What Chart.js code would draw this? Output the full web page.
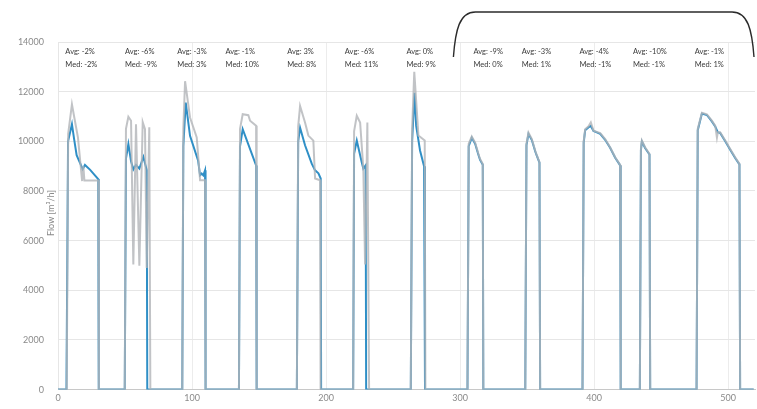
<!DOCTYPE html>
<html>
<head>
<meta charset="utf-8">
<script src="https://cdn.jsdelivr.net/npm/chart.js@4/dist/chart.umd.min.js"></script>
<style>
  html, body { margin: 0; padding: 0; background: #ffffff; }
  #flow { display: block; }
</style>
</head>
<body>
<canvas id="flow" width="757" height="409"></canvas>
<script>
// Measured flow (grey) – time [h] and flow [m³/h]
const grayX = [0,
  6.5, 7.6, 10.4, 12.2, 14.9, 18.0, 18.9, 19.7, 30.1, 30.5,
  49.8, 50.7, 52.5, 54.5, 56.2, 58.2, 60.7, 63.2, 64.9, 66.2, 68.1, 68.9,
  92.7, 93.5, 94.8, 98.5, 103.5, 106.0, 109.7, 110.1,
  135.0, 135.8, 137.8, 142.0, 143.3, 147.8, 148.2,
  178.2, 179.2, 180.6, 184.3, 186.8, 190.5, 191.8, 195.5, 195.9,
  220.2, 220.9, 222.9, 225.4, 227.8, 229.1, 230.8, 232.1,
  263.2, 264.2, 265.8, 268.9, 273.6, 274.1,
  305.5, 306.4, 308.7, 311.2, 313.7, 314.9, 316.9, 317.3,
  348.6, 349.5, 351.0, 353.5, 356.0, 357.2, 359.2, 359.7,
  391.3, 392.2, 393.3, 395.7, 397.5, 399.5, 402.0, 404.5, 408.2, 411.9, 415.7, 418.1, 419.4, 419.8,
  434.1, 434.9, 435.6, 438.0, 441.3, 441.8,
  476.4, 477.3, 480.4, 484.1, 487.8, 490.3, 491.6, 492.3, 494.0, 497.8, 501.5, 505.2, 508.4, 508.9,
  519];
const grayY = [0,
  0, 10300, 11490, 10950, 10150, 8400, 9000, 8420, 8420, 0,
  0, 10500, 10990, 10830, 5040, 10690, 4990, 10770, 10490, 4900, 10570, 0,
  0, 10500, 12420, 10960, 10160, 8430, 8430, 0,
  0, 10500, 11090, 11050, 10830, 10630, 0,
  0, 10600, 11420, 10760, 10230, 10030, 8500, 8430, 0,
  0, 10400, 11030, 10760, 8900, 5040, 10760, 0,
  0, 10500, 12800, 10230, 10030, 0,
  0, 9900, 10190, 9950, 9490, 9290, 9090, 0,
  0, 9900, 10350, 10090, 9630, 9440, 9160, 0,
  0, 10000, 10490, 10600, 10760, 10430, 10380, 10330, 10090, 9760, 9360, 9160, 9050, 0,
  0, 9700, 10030, 9760, 9490, 0,
  0, 10500, 11150, 11090, 10830, 10630, 10150, 10370, 10370, 10030, 9690, 9360, 9090, 0,
  0];

// Simulated flow (blue)
const blueX = [0,
  6.3, 7.5, 10.4, 12.0, 13.9, 17.7, 18.4, 20.1, 24.0, 30.0, 30.4,
  49.8, 50.7, 52.5, 54.5, 56.2, 58.2, 60.7, 63.7, 66.2, 66.6,
  92.7, 93.5, 95.3, 98.5, 104.5, 106.0, 107.2, 108.4, 109.7, 110.1,
  135.0, 135.8, 137.8, 147.8, 148.2,
  178.2, 179.2, 180.6, 184.3, 189.3, 191.8, 194.3, 196.0, 196.3,
  220.2, 220.9, 222.9, 226.6, 227.8, 229.5, 229.9,
  263.2, 264.2, 266.0, 267.2, 270.1, 273.1, 273.8,
  305.5, 306.4, 308.7, 311.2, 313.7, 314.9, 316.9, 317.3,
  348.6, 349.5, 351.0, 353.5, 356.0, 357.2, 359.2, 359.7,
  391.3, 392.2, 393.3, 395.7, 397.5, 399.5, 402.0, 404.5, 408.2, 411.9, 415.7, 418.1, 419.4, 419.8,
  434.1, 434.9, 435.6, 438.0, 441.3, 441.8,
  476.4, 477.3, 480.4, 484.1, 487.8, 490.3, 492.3, 494.0, 497.8, 501.5, 505.2, 508.4, 508.9,
  519];
const blueY = [0,
  0, 10000, 10690, 10100, 9440, 8970, 8880, 9050, 8850, 8480, 0,
  0, 9300, 9890, 9200, 8870, 9050, 8900, 9370, 8840, 0,
  0, 9800, 11560, 10220, 9230, 8630, 8700, 8630, 8830, 0,
  0, 9800, 10490, 9030, 0,
  0, 10000, 10550, 9840, 9100, 8830, 8710, 8500, 0,
  0, 9500, 10030, 9160, 8900, 9030, 0,
  0, 10000, 11950, 10630, 9630, 9000, 0,
  0, 9800, 10150, 9900, 9450, 9250, 9060, 0,
  0, 9850, 10300, 10050, 9600, 9420, 9140, 0,
  0, 9950, 10450, 10560, 10620, 10420, 10360, 10300, 10060, 9740, 9340, 9140, 9030, 0,
  0, 9650, 9990, 9730, 9470, 0,
  0, 10450, 11120, 11060, 10800, 10600, 10360, 10340, 10000, 9660, 9330, 9070, 0,
  0];

// Deviation notes, one per run
const noteAt = [5.5, 50, 89, 125, 171, 214, 260, 310, 346, 389, 429, 475];
const avgText = ['Avg: -2%', 'Avg: -6%', 'Avg: -3%', 'Avg: -1%', 'Avg: 3%', 'Avg: -6%',
                 'Avg: 0%', 'Avg: -9%', 'Avg: -3%', 'Avg: -4%', 'Avg: -10%', 'Avg: -1%'];
const medText = ['Med: -2%', 'Med: -9%', 'Med: 3%', 'Med: 10%', 'Med: 8%', 'Med: 11%',
                 'Med: 9%', 'Med: 0%', 'Med: 1%', 'Med: -1%', 'Med: -1%', 'Med: 1%'];

// Range spanned by the bracket over the later runs
const bracketFrom = 295;

const yTitle = 'Flow [m³/h]';
const xTickStep = 100;

const toPoints = (xs, ys) => xs.map((x, i) => ({ x: x, y: ys[i] }));
const FONT = 'Lato, "Open Sans", sans-serif';

const notesPlugin = {
  id: 'notes',
  afterDatasetsDraw(chart) {
    const { ctx, chartArea, scales } = chart;
    ctx.save();
    ctx.font = '7.5px ' + FONT;
    ctx.fillStyle = '#3a3a3a';
    ctx.textAlign = 'left';
    ctx.textBaseline = 'middle';
    noteAt.forEach((v, i) => {
      const px = scales.x.getPixelForValue(v);
      ctx.fillText(avgText[i], px, chartArea.top + 9.5);
      ctx.fillText(medText[i], px, chartArea.top + 23);
    });
    ctx.restore();
  },
  afterDraw(chart) {
    const { ctx, scales, chartArea } = chart;
    // axis title, set just left of the plot
    ctx.save();
    ctx.font = '9px ' + FONT;
    ctx.fillStyle = '#8a8a8a';
    ctx.textAlign = 'center';
    ctx.textBaseline = 'middle';
    ctx.translate(chartArea.left - 7, 213);
    ctx.rotate(-Math.PI / 2);
    ctx.fillText(yTitle, 0, 0);
    ctx.restore();

    // bracket over the later runs
    const x0 = scales.x.getPixelForValue(bracketFrom);
    const x1 = chart.width - 3;
    const yTop = 12, yEnd = 57, r = 22;
    ctx.save();
    ctx.strokeStyle = '#2b2b2b';
    ctx.lineWidth = 1.4;
    ctx.beginPath();
    ctx.moveTo(x0, yEnd);
    ctx.bezierCurveTo(x0 + 2, yTop + 18, x0 + 6, yTop, x0 + r, yTop);
    ctx.lineTo(x1 - r, yTop);
    ctx.bezierCurveTo(x1 - 6, yTop, x1 - 2, yTop + 18, x1, yEnd);
    ctx.stroke();
    ctx.restore();
  }
};

new Chart(document.getElementById('flow'), {
  type: 'line',
  data: {
    datasets: [
      {
        label: 'Simulated',
        data: toPoints(blueX, blueY),
        borderColor: '#2f8fc6',
        borderWidth: 2,
        pointRadius: 0,
        tension: 0,
        order: 2
      },
      {
        label: 'Measured',
        data: toPoints(grayX, grayY),
        borderColor: 'rgba(178,180,184,0.8)',
        borderWidth: 2,
        pointRadius: 0,
        tension: 0,
        order: 1
      }
    ]
  },
  options: {
    responsive: false,
    animation: false,
    devicePixelRatio: 1,
    layout: { padding: { top: 42, right: 2, left: 0, bottom: 0 } },
    plugins: {
      legend: { display: false },
      tooltip: { enabled: false }
    },
    scales: {
      x: {
        type: 'linear',
        min: 0,
        max: 520,
        afterBuildTicks(scale) {
          scale.ticks = scale.ticks.filter(t => t.value % xTickStep === 0);
        },
        afterFit(scale) { scale.height = 16; },
        ticks: {
          stepSize: xTickStep,
          color: '#8a8a8a',
          padding: 3,
          callback: v => String(v),
          font: { family: FONT, size: 9 }
        },
        grid: { color: '#ececec', lineWidth: 1, drawTicks: false },
        border: { color: '#c8c8c8', width: 1 }
      },
      y: {
        min: 0,
        max: 14000,
        afterFit(scale) { scale.width = 58; },
        ticks: {
          stepSize: 2000,
          color: '#8a8a8a',
          padding: 14,
          callback: v => String(v),
          font: { family: FONT, size: 9 }
        },
        grid: { color: '#e6e6e6', lineWidth: 1, drawTicks: false },
        border: { display: true, color: '#e6e6e6' }
      }
    }
  },
  plugins: [notesPlugin]
});
</script>
</body>
</html>
